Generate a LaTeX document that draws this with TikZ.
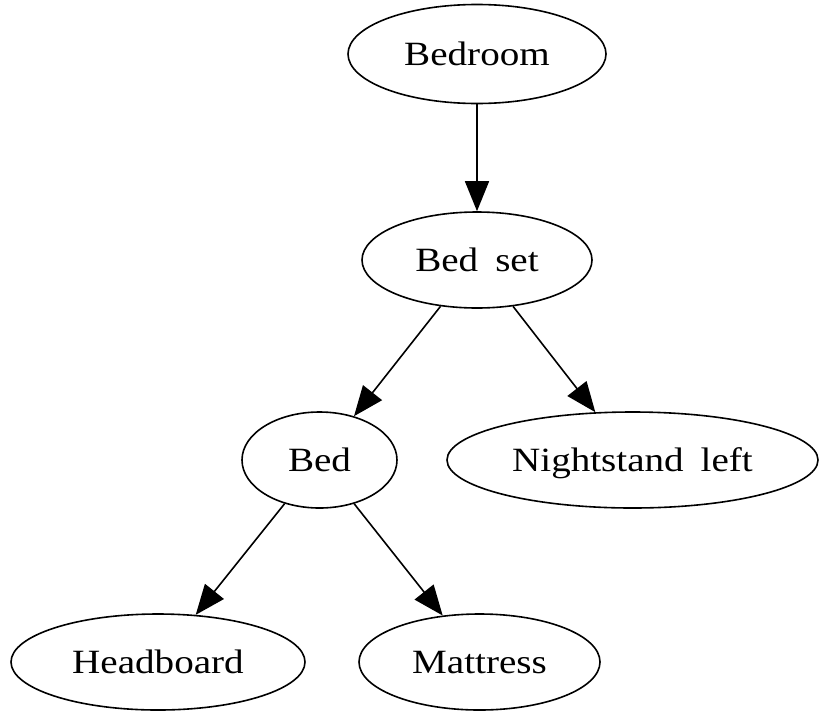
\documentclass[tikz,border=0pt]{standalone}
\usepackage{fontspec}
\setmainfont{Liberation Serif}[FakeStretch=1.15]
\usetikzlibrary{shapes.geometric,arrows.meta}
\begin{document}
\begin{tikzpicture}[x=1pt,y=-1pt,
  part/.style={ellipse,draw,line width=1.6pt,inner sep=0pt,
    text height=22.5pt,text depth=0pt,
    font=\fontsize{34}{40}\selectfont},
  link/.style={-{Triangle[length=30pt,width=24pt]},line width=1.6pt}]
\useasboundingbox (0,0) rectangle (821,715);
% nodes of the furniture tree
\node[part,minimum width=258pt,minimum height=99pt] (bedroom) at (477,54) {Bedroom};
\node[part,minimum width=230pt,minimum height=96pt] (bedset) at (477,260) {Bed\hspace{0.5em}set};
\node[part,minimum width=155pt,minimum height=96pt] (bed) at (319.5,460) {Bed};
\node[part,minimum width=371pt,minimum height=96pt] (night) at (632.5,460) {Nightstand\hspace{0.5em}left};
\node[part,minimum width=294pt,minimum height=96pt] (head) at (158,662) {Headboard};
\node[part,minimum width=241pt,minimum height=96pt] (matt) at (479.5,662) {Mattress};
% parent-to-child links
\draw[link] (bedroom) -- (bedset);
\draw[link] (bedset) -- (bed);
\draw[link] (bedset) -- (night);
\draw[link] (bed) -- (head);
\draw[link] (bed) -- (matt);
\end{tikzpicture}
\end{document}
